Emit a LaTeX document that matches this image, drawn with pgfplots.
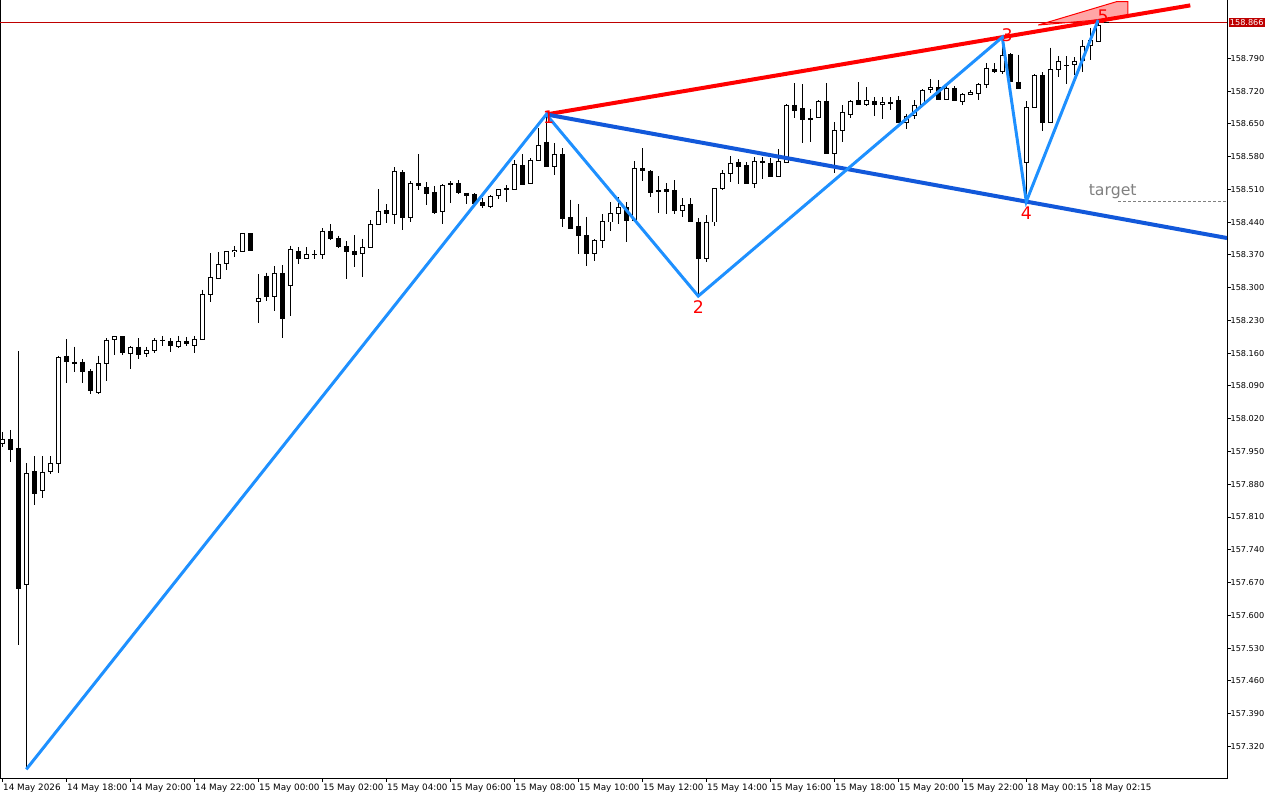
\documentclass[border=0pt]{standalone}
\usepackage{pgfplots}
\pgfplotsset{compat=1.18}
\usepackage{pgfplotstable}
\usepackage{fontspec}
\setmainfont{DejaVu Sans}
\definecolor{zz}{RGB}{30,144,255}
\definecolor{dkblue}{RGB}{18,88,218}
\definecolor{bidred}{RGB}{190,0,0}
\definecolor{tgray}{RGB}{128,128,128}
\pgfplotstableread{
i O H L C
0 157.967 157.992 157.960 157.976
1 157.975 157.996 157.928 157.955
2 157.957 158.165 157.537 157.658
3 157.665 157.925 157.271 157.903
4 157.907 157.940 157.836 157.861
5 157.866 157.940 157.851 157.906
6 157.907 157.940 157.902 157.925
7 157.925 158.154 157.905 158.152
8 158.154 158.190 158.096 158.142
9 158.141 158.174 158.120 158.138
10 158.141 158.148 158.096 158.120
11 158.122 158.126 158.073 158.080
12 158.076 158.155 158.073 158.138
13 158.138 158.192 158.101 158.188
14 158.188 158.197 158.156 158.195
15 158.195 158.195 158.156 158.161
16 158.160 158.175 158.126 158.173
17 158.173 158.192 158.148 158.157
18 158.159 158.174 158.152 158.166
19 158.166 158.192 158.161 158.188
20 158.188 158.197 158.175 158.187
21 158.185 158.192 158.163 158.176
22 158.174 158.197 158.172 158.185
23 158.185 158.195 158.175 158.180
24 158.176 158.197 158.161 158.190
25 158.190 158.296 158.190 158.286
26 158.286 158.374 158.270 158.322
27 158.320 158.376 158.320 158.350
28 158.352 158.378 158.338 158.378
29 158.376 158.389 158.365 158.380
30 158.377 158.416 158.377 158.416
31 158.415 158.416 158.379 158.380
32 158.271 158.329 158.224 158.277
33 158.325 158.332 158.272 158.281
34 158.281 158.346 158.251 158.331
35 158.331 158.348 158.193 158.234
36 158.305 158.390 158.240 158.382
37 158.378 158.386 158.351 158.361
38 158.363 158.386 158.361 158.371
39 158.371 158.380 158.361 158.370
40 158.371 158.427 158.361 158.421
41 158.421 158.435 158.402 158.405
42 158.405 158.411 158.385 158.387
43 158.388 158.399 158.318 158.378
44 158.378 158.412 158.345 158.371
45 158.373 158.405 158.322 158.386
46 158.386 158.444 158.384 158.435
47 158.435 158.510 158.435 158.463
48 158.465 158.478 158.439 158.459
49 158.457 158.557 158.435 158.549
50 158.546 158.551 158.423 158.450
51 158.450 158.527 158.440 158.523
52 158.523 158.585 158.508 158.517
53 158.514 158.525 158.476 158.501
54 158.504 158.517 158.457 158.461
55 158.463 158.521 158.437 158.519
56 158.523 158.527 158.481 158.520
57 158.523 158.529 158.499 158.502
58 158.502 158.502 158.478 158.497
59 158.499 158.502 158.478 158.480
60 158.482 158.491 158.471 158.475
61 158.473 158.497 158.471 158.495
62 158.497 158.510 158.489 158.510
63 158.512 158.519 158.484 158.509
64 158.510 158.572 158.510 158.564
65 158.561 158.585 158.519 158.521
66 158.523 158.576 158.521 158.572
67 158.572 158.640 158.572 158.604
68 158.611 158.670 158.557 158.559
69 158.559 158.608 158.540 158.585
70 158.585 158.598 158.429 158.448
71 158.450 158.488 158.425 158.427
72 158.431 158.478 158.371 158.412
73 158.412 158.451 158.346 158.373
74 158.373 158.403 158.356 158.401
75 158.401 158.457 158.385 158.442
76 158.440 158.482 158.420 158.459
77 158.459 158.493 158.435 158.472
78 158.472 158.482 158.397 158.444
79 158.444 158.570 158.440 158.555
80 158.555 158.598 158.527 158.549
81 158.549 158.551 158.493 158.504
82 158.507 158.538 158.459 158.505
83 158.509 158.523 158.457 158.506
84 158.508 158.529 158.457 158.465
85 158.465 158.491 158.450 158.476
86 158.478 158.491 158.440 158.442
87 158.440 158.448 158.282 158.361
88 158.361 158.455 158.354 158.440
89 158.440 158.512 158.431 158.512
90 158.511 158.551 158.509 158.544
91 158.544 158.581 158.525 158.566
92 158.568 158.574 158.521 158.558
93 158.561 158.568 158.521 158.523
94 158.523 158.579 158.512 158.570
95 158.570 158.579 158.532 158.568
96 158.566 158.576 158.536 158.538
97 158.538 158.596 158.538 158.570
98 158.568 158.692 158.566 158.690
99 158.690 158.737 158.662 158.679
100 158.683 158.734 158.608 158.658
101 158.662 158.681 158.611 158.659
102 158.664 158.700 158.662 158.698
103 158.698 158.737 158.587 158.587
104 158.587 158.653 158.544 158.636
105 158.636 158.690 158.611 158.675
106 158.670 158.700 158.662 158.698
107 158.700 158.739 158.692 158.692
108 158.690 158.728 158.687 158.700
109 158.698 158.707 158.666 158.690
110 158.690 158.707 158.660 158.696
111 158.696 158.707 158.679 158.694
112 158.700 158.709 158.651 158.653
113 158.653 158.672 158.638 158.666
114 158.668 158.700 158.660 158.690
115 158.690 158.724 158.687 158.722
116 158.722 158.745 158.715 158.728
117 158.728 158.744 158.700 158.702
118 158.702 158.730 158.700 158.726
119 158.726 158.730 158.698 158.700
120 158.698 158.715 158.690 158.713
121 158.713 158.722 158.711 158.717
122 158.715 158.737 158.700 158.734
123 158.734 158.779 158.726 158.769
124 158.766 158.779 158.758 158.762
125 158.762 158.835 158.756 158.796
126 158.798 158.801 158.739 158.741
127 158.739 158.798 158.724 158.726
128 158.568 158.698 158.484 158.685
129 158.685 158.756 158.683 158.754
130 158.754 158.760 158.634 158.653
131 158.653 158.813 158.653 158.766
132 158.766 158.794 158.749 158.784
133 158.775 158.794 158.734 158.774
134 158.777 158.792 158.754 158.784
135 158.784 158.828 158.760 158.816
136 158.816 158.855 158.786 158.828
137 158.825 158.872 158.825 158.861
138 158.867 158.868 158.865 158.866
}\candles
\begin{document}
\begin{tikzpicture}[x=1pt,y=1pt]
\path[use as bounding box] (0,-16.5) rectangle (960,583.5);
\begin{axis}[
  at={(0,0)}, anchor=south west,
  width=920.25pt, height=583.5pt, scale only axis,
  xmin=-0.2875, xmax=153.09, ymin=157.2525, ymax=158.9145,
  axis line style={line width=0.75pt, black},
  tick align=outside, major tick length=3pt,
  tick style={black, line width=0.75pt},
  xtick pos=bottom, ytick pos=right, yticklabel pos=right,
  scaled y ticks=false, scaled x ticks=false,
  xtick={0,8,16,24,32,40,48,56,64,72,80,88,96,104,112,120,128,136},
  xticklabels={14 May 2026,14 May 18:00,14 May 20:00,14 May 22:00,15 May 00:00,15 May 02:00,15 May 04:00,15 May 06:00,15 May 08:00,15 May 10:00,15 May 12:00,15 May 14:00,15 May 16:00,15 May 18:00,15 May 20:00,15 May 22:00,18 May 00:15,18 May 02:15},
  xticklabel style={font=\fontsize{6.6}{7}\selectfont, anchor=north west, inner sep=0pt, xshift=0.5pt, yshift=-1pt},
  ytick={157.32,157.39,157.46,157.53,157.60,157.67,157.74,157.81,157.88,157.95,158.02,158.09,158.16,158.23,158.30,158.37,158.44,158.51,158.58,158.65,158.72,158.79},
  yticklabels={157.320,157.390,157.460,157.530,157.600,157.670,157.740,157.810,157.880,157.950,158.020,158.090,158.160,158.230,158.300,158.370,158.440,158.510,158.580,158.650,158.720,158.790},
  yticklabel style={font=\fontsize{6.1}{7}\selectfont, anchor=west, inner sep=0pt, xshift=-0.5pt},
]
% bid line
\addplot[bidred, line width=0.75pt] coordinates {(-0.2875,158.866) (153.09,158.866)};
% wicks
\addplot[draw=none, mark=none, error bars/.cd, y dir=minus, y explicit, error mark=none,
  error bar style={draw=black, line width=0.75pt, line cap=butt}]
  table[x=i, y=H, y error minus expr={\thisrow{H}-\thisrow{L}}] {\candles};
% bodies (outline / black)
\addplot[draw=none, mark=none, error bars/.cd, y dir=minus, y explicit, error mark=none,
  error bar style={draw=black, line width=3.75pt, line cap=butt}]
  table[x=i, y expr={max(\thisrow{O},\thisrow{C})+0.0008}, y error minus expr={abs(\thisrow{O}-\thisrow{C})+0.0016}] {\candles};
% white interiors
\addplot[draw=none, mark=none, restrict expr to domain={\thisrow{C}-\thisrow{O}}{0.003:10},
  error bars/.cd, y dir=minus, y explicit, error mark=none,
  error bar style={draw=white, line width=2.25pt, line cap=butt}]
  table[x=i, y expr={\thisrow{C}-0.0013}, y error minus expr={\thisrow{C}-\thisrow{O}-0.0026}] {\candles};
% pattern
\addplot[fill=red, fill opacity=0.35, draw=red, line width=0.75pt] coordinates {(129.5,158.861) (139.3,158.911) (140.7,158.911) (140.7,158.882) (137,158.872) (129.5,158.861)};
\addplot[red, line width=3pt] coordinates {(68,158.670) (148.5,158.903)};
\addplot[dkblue, line width=3pt] coordinates {(68,158.670) (153.09,158.406)};
\addplot[zz, line width=2.25pt] coordinates {(3,157.271) (68,158.670) (87,158.282) (125,158.835) (128,158.484) (137,158.872)};
\addplot[tgray, line width=0.75pt, dash pattern=on 2.25pt off 1.5pt] coordinates {(139.5,158.483) (153.09,158.483)};
\node[text=tgray, font=\fontsize{11.8}{12}\selectfont] at (axis cs:138.8,158.5043) {target};
\node[text=red, font=\fontsize{13}{13}\selectfont] at (axis cs:68.3,158.665) {1};
\node[text=red, font=\fontsize{13}{13}\selectfont] at (axis cs:87,158.2587) {2};
\node[text=red, font=\fontsize{13}{13}\selectfont] at (axis cs:125.6,158.8397) {3};
\node[text=red, font=\fontsize{13}{13}\selectfont] at (axis cs:128,158.4595) {4};
\node[text=red, font=\fontsize{13}{13}\selectfont] at (axis cs:137.6,158.880) {5};
\coordinate (bid) at (axis cs:153.09,158.866);
\end{axis}
\node[fill=bidred, text=white, anchor=west, inner sep=1pt, font=\fontsize{6.1}{7}\selectfont] at ([xshift=1pt]bid) {158.866};
\end{tikzpicture}
\end{document}
